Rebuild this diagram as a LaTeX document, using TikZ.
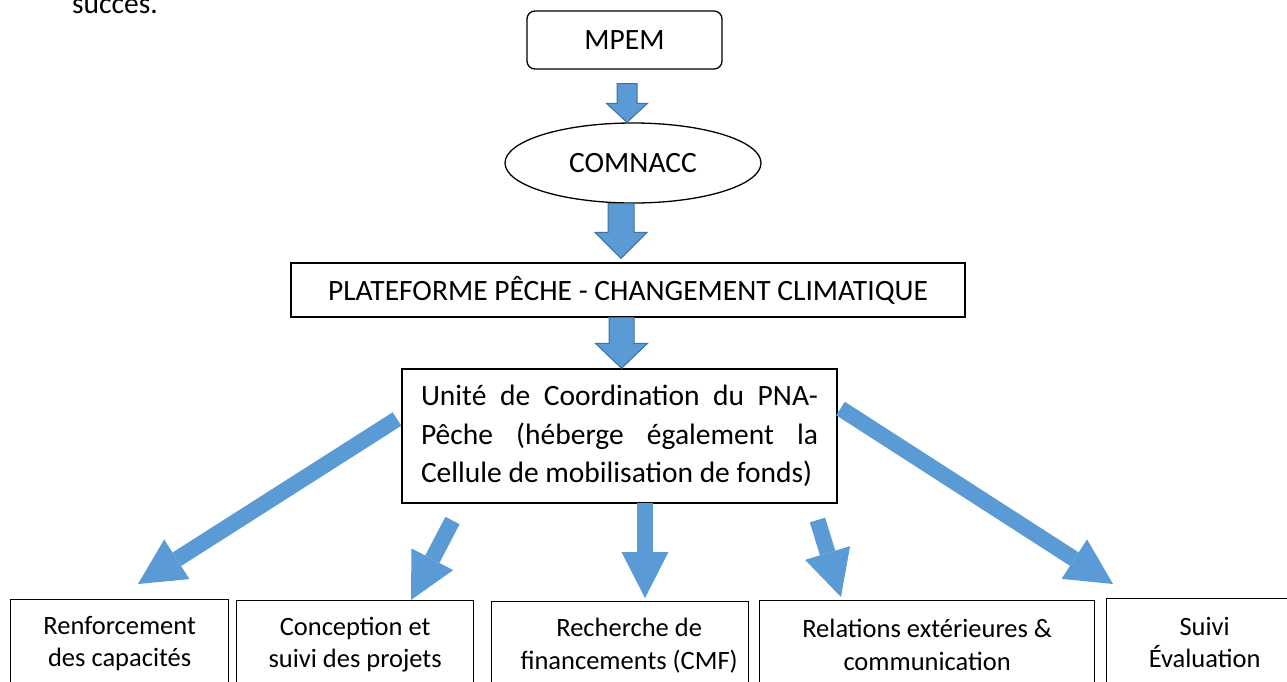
\documentclass[tikz,border=0pt]{standalone}
\usepackage{fontspec}
\setmainfont{Carlito}
\usetikzlibrary{arrows.meta,shapes.geometric,calc}
\definecolor{arrowblue}{RGB}{91,155,213}
\definecolor{arrowrim}{RGB}{65,113,156}
\newcommand\bigfnt{\fontsize{29.5}{36}\selectfont}
\newcommand\smlfnt{\fontsize{26.5}{32.5}\selectfont}
\tikzset{
  plainbox/.style={draw,line width=1.3pt,inner sep=0pt},
  botbox/.style={plainbox,anchor=north west,minimum height=88pt,align=center,font=\smlfnt},
  vblock/.style n args={3}{fill=arrowblue,draw=arrowrim,line width=1pt,line join=miter,
    to path={let \p1=(\tikztostart),\p2=(\tikztotarget) in
      ({\x1-#1},\y1) -- ({\x1+#1},\y1) -- ({\x1+#1},{\y2+#3}) -- ({\x1+#2},{\y2+#3})
      -- (\x1,\y2) -- ({\x1-#2},{\y2+#3}) -- ({\x1-#1},{\y2+#3}) -- cycle}},
  darrow/.style={draw=arrowblue,line width=16pt,-{Triangle[length=46pt,width=47pt,line width=0pt]}}
}
\begin{document}
\begin{tikzpicture}[x=1pt,y=-1pt,font=\bigfnt]
\useasboundingbox (0,0) rectangle (1287,681);
\clip (0,0) rectangle (1287,681);
\node[anchor=base west,inner sep=0pt] (succ) at (72,13) {succes.};
\node[plainbox,rounded corners=8pt,minimum width=195pt,minimum height=58pt] (mpem) at (624.5,40) {MPEM};
\node[plainbox,ellipse,minimum width=256pt,minimum height=80pt] (comnacc) at (633,163) {COMNACC};
\node[plainbox,minimum width=674pt,minimum height=54pt] (plat) at (628,290) {PLATEFORME PÊCHE - CHANGEMENT CLIMATIQUE};
\node[plainbox,text width=397pt,inner xsep=19pt,minimum height=134pt,align=justify,
  font=\fontsize{29.5}{38.5}\selectfont] (unit) at (619.5,436)
  {Unité de Coordination du PNA-\linebreak Pêche (héberge également la\linebreak Cellule de mobilisation de fonds)};
% bottom row
\node[botbox,minimum width=218pt] (renf) at (10,599) {Renforcement\\des capacités};
\node[botbox,minimum width=237pt] (conc) at (236,600) {Conception et\\suivi des projets};
\node[botbox,minimum width=257pt] (rech) at (491,601) {\hspace*{18pt}Recherche de\\\hspace*{18pt}financements (CMF)};
\node[botbox,minimum width=335pt] (rel) at (759,600) {Relations extérieures \&\\communication};
\node[botbox,minimum width=196pt] (suiv) at (1106,598) {Suivi\\Évaluation};
% block arrows
\draw[vblock={10}{20.5}{19}] ([xshift=2.5pt,yshift=-14pt]mpem.south) to (comnacc.north);
\draw[vblock={13}{26}{26}] ([xshift=-12pt]comnacc.south) to ([yshift=4pt]plat.north);
\draw[vblock={12.5}{26}{25}] ([xshift=-6.5pt]plat.south) to (unit.north);
\coordinate (s1) at (397,419); \coordinate (e1) at (138,584);
\coordinate (s2) at (452.5,520.5); \coordinate (e2) at (411,600);
\coordinate (s3) at (645,503); \coordinate (e3) at (645,598);
\coordinate (s4) at (817.5,520); \coordinate (e4) at (841,597);
\coordinate (s5) at (840.5,408.5); \coordinate (e5) at (1113,584);
\draw[darrow] (s1) -- (e1); \draw[darrow] (s2) -- (e2); \draw[darrow] (s3) -- (e3);
\draw[darrow] (s4) -- (e4); \draw[darrow] (s5) -- (e5);
\end{tikzpicture}
\end{document}
